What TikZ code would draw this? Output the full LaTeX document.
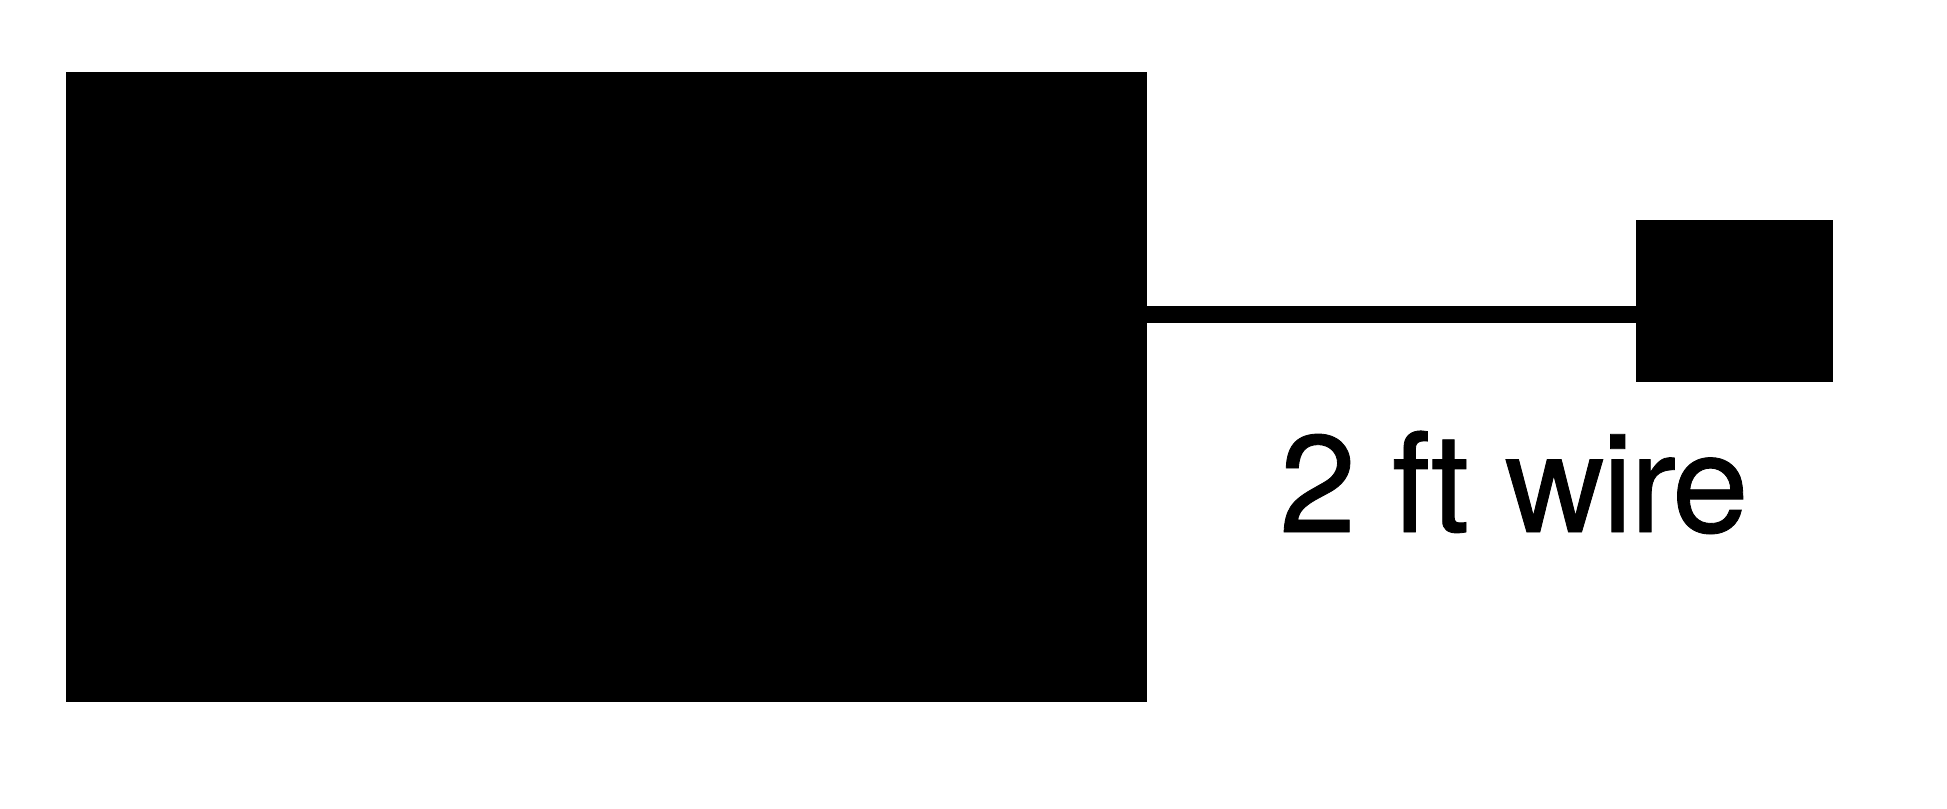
\documentclass[tikz,border=0pt]{standalone}
\usepackage{fontspec}
\newfontfamily\labelfont{TeX Gyre Heros}[LetterSpace=-2.0,FakeBold=0.6]
\usetikzlibrary{calc}
\tikzstyle{block}=[rectangle,fill=black,draw=none,inner sep=0pt,outer sep=0pt]
\tikzstyle{wire}=[line width=4.6pt]
\tikzstyle{wirelabel}=[anchor=base,inner sep=0pt,font=\labelfont\fontsize{39.3}{42}\selectfont]
\begin{document}
\begin{tikzpicture}[x=0.01cm,y=-0.01cm]
  \useasboundingbox (0,0) rectangle (1947,808);
  \node[block,minimum width=10.81cm,minimum height=6.30cm] (device) at (606.5,387) {};
  \node[block,minimum width=1.97cm,minimum height=1.62cm] (probe) at (1734.5,301) {};
  \coordinate (w) at (0,314.5);
  \draw[wire] (device.east |- w) -- (probe.west |- w);
  \node[wirelabel] (len) at (1514,532) {2 ft wire};
\end{tikzpicture}
\end{document}
